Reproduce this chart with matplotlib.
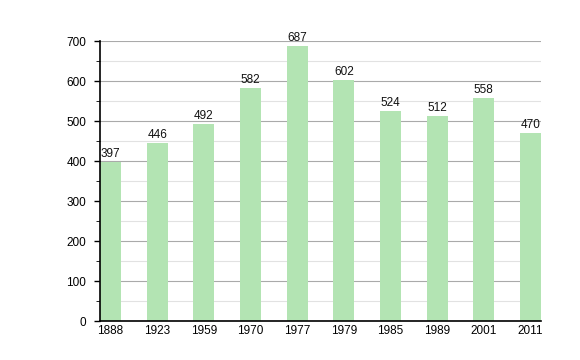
import matplotlib
matplotlib.use('Agg')
import matplotlib.pyplot as plt
import numpy as np

years = ['1888', '1923', '1959', '1970', '1977', '1979', '1985', '1989', '2001', '2011']
population = [397, 446, 492, 582, 687, 602, 524, 512, 558, 470]

plt.rcParams['font.family'] = ['Liberation Sans', 'DejaVu Sans']

fig = plt.figure(figsize=(5.8, 3.6), dpi=100)
ax = fig.add_axes([0.1724, 0.1083, 0.7604, 0.7778])

x = np.arange(len(years))
ax.bar(x, population, width=0.45, color='#b3e4b3', zorder=2)

for xi, v in zip(x, population):
    ax.text(xi, v + 5, str(v), ha='center', va='bottom', fontsize=8.5, color='#111111')

ax.set_xlim(-0.225, len(years) - 1 + 0.225)
ax.set_ylim(0, 700)
ax.set_xticks(x)
ax.set_xticklabels(years, fontsize=8.5)
ax.set_yticks(np.arange(0, 701, 100))
ax.set_yticks(np.arange(50, 700, 100), minor=True)
ax.tick_params(axis='y', labelsize=8.5, length=4, width=1, direction='out', pad=6)
ax.tick_params(axis='y', which='minor', length=3)
ax.tick_params(axis='x', length=0, pad=3)

ax.grid(axis='y', which='major', color='#aaaaaa', linewidth=0.8, zorder=0)
ax.grid(axis='y', which='minor', color='#e2e2e2', linewidth=0.8, zorder=0)

for s in ['top', 'right']:
    ax.spines[s].set_visible(False)
ax.spines['left'].set_linewidth(1.2)
ax.spines['bottom'].set_linewidth(1.2)

plt.savefig('out.png', dpi=100)
